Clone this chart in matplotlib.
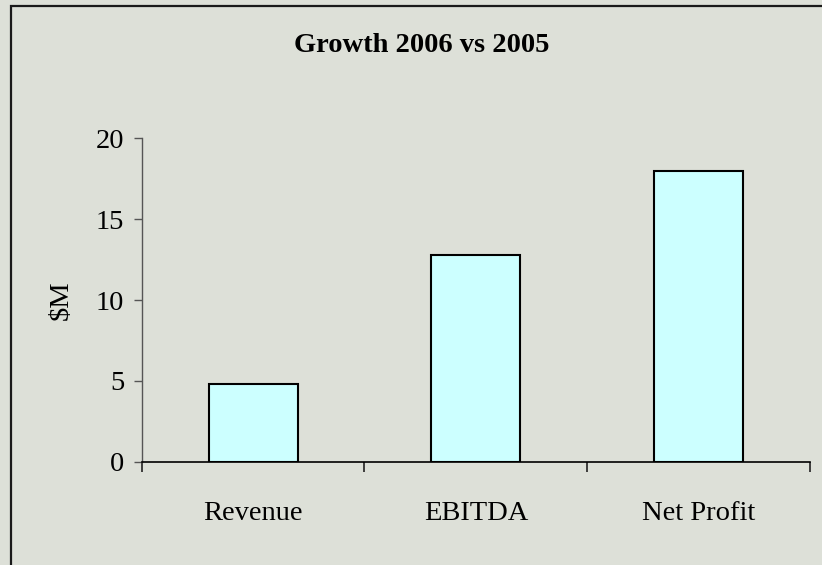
import matplotlib
matplotlib.use("Agg")
import matplotlib.pyplot as plt
from matplotlib.patches import Rectangle

categories = ["Revenue", "EBITDA", "Net Profit"]
growth = [4.8, 12.8, 18.0]
yticks = [0, 5, 10, 15, 20]

BG = "#dde0d8"
BAR = "#ccffff"

plt.rcParams["font.family"] = ["Liberation Serif", "DejaVu Serif"]

fig = plt.figure(figsize=(8.22, 5.65), dpi=100, facecolor=BG)

# frame around the chart area (only top/left edges fall inside the canvas)
fig.patches.append(Rectangle((11 / 822, -0.05), 1.1, (565 - 6) / 565 + 0.05,
                             transform=fig.transFigure, fill=False,
                             edgecolor="#1a1a1a", linewidth=1.6))

ax = fig.add_axes([0.1724, 0.1828, 0.8130, 0.5724])
ax.set_facecolor(BG)

x = [i + 0.5 for i in range(len(categories))]
ax.bar(x, growth, width=0.4, color=BAR, edgecolor="black", linewidth=1.5, zorder=3)

ax.set_xlim(0, len(categories))
ax.set_ylim(0, 20)

for side in ["top", "right"]:
    ax.spines[side].set_visible(False)
ax.spines["left"].set_color("#555555")
ax.spines["bottom"].set_color("black")
ax.spines["left"].set_linewidth(1.0)
ax.spines["bottom"].set_linewidth(1.2)

ax.set_yticks(yticks)
ax.set_yticklabels([str(v) for v in yticks], fontsize=20.5)
ax.tick_params(axis="y", direction="out", length=6, width=1.0, color="#555555", pad=6.5)

# category labels centred under bars, boundary ticks between categories
ax.set_xticks(x)
ax.set_xticklabels(categories, fontsize=20.5)
ax.tick_params(axis="x", which="major", length=0, pad=28)
ax.set_xticks(range(len(categories) + 1), minor=True)
ax.tick_params(axis="x", which="minor", direction="out", length=7.5, width=1.2, color="#222222")

ax.set_ylabel("$M", fontsize=20.5, labelpad=16)

fig.text(0.513, 0.920, "Growth 2006 vs 2005", ha="center", va="center",
         fontsize=20.5, fontweight="bold")

fig.savefig("out.png", dpi=100, facecolor=BG)
